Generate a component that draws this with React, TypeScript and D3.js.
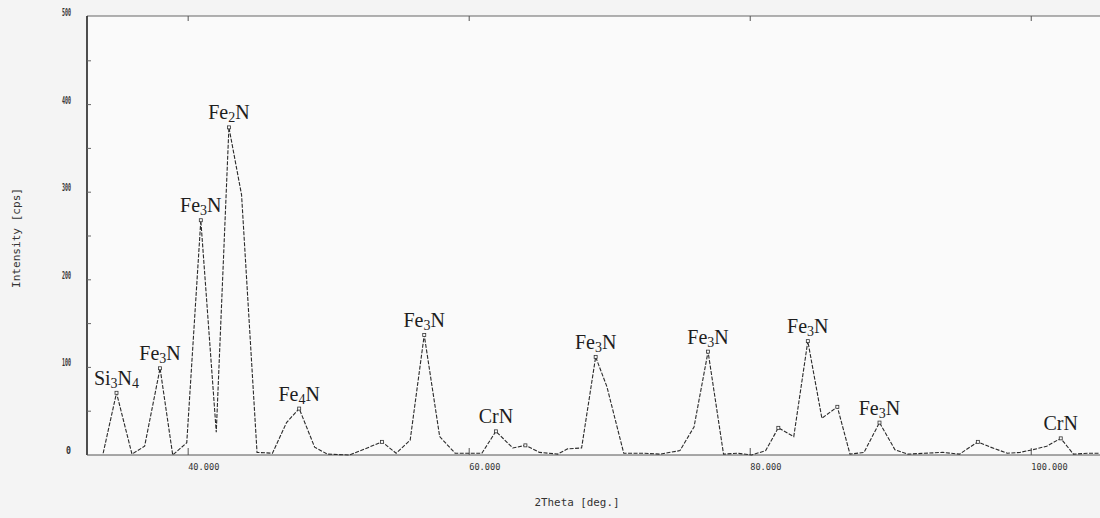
import * as d3 from 'd3';

// XRD pattern
const twoTheta = [33.95, 34.9, 36.0, 36.9, 38.0, 38.9, 39.9, 40.9, 42.0, 42.9, 43.8, 44.9, 46.0, 47.0, 47.9, 49.0, 49.9, 51.5, 53.8, 54.8, 55.8, 56.8, 57.9, 59.0, 60.9, 61.9, 63.1, 64.0, 65.0, 66.3, 67.0, 68.0, 69.0, 69.8, 71.0, 72.4, 73.6, 75.0, 76.0, 77.0, 78.1, 79.1, 80.1, 81.1, 82.0, 83.1, 84.1, 85.1, 86.2, 87.1, 88.1, 89.2, 90.3, 91.2, 93.7, 94.9, 96.2, 97.1, 98.3, 99.2, 100.1, 101.1, 102.1, 103.0, 104.0, 105.0];
const intensity = [2, 71, 1, 10, 99, 0, 14, 268, 26, 374, 297, 3, 2, 37, 53, 9, 1, 0, 15, 2, 17, 137, 21, 2, 2, 27, 8, 11, 3, 1, 7, 8, 112, 78, 2, 2, 1, 5, 32, 118, 1, 2, 0, 5, 31, 21, 130, 42, 55, 1, 3, 37, 6, 1, 3, 1, 15, 9, 2, 3, 6, 10, 19, 1, 2, 2];

// labelled peaks
const peakTheta = [34.9, 38.0, 40.9, 42.9, 47.9, 56.8, 61.9, 69.0, 77.0, 84.1, 89.2, 102.1];
const peakPhase = ['Si3N4', 'Fe3N', 'Fe3N', 'Fe2N', 'Fe4N', 'Fe3N', 'CrN', 'Fe3N', 'Fe3N', 'Fe3N', 'Fe3N', 'CrN'];
// other small markers on the trace
const markTheta = [53.8, 64.0, 82.0, 86.2, 96.2];

const xTicks = [40, 60, 80, 100];
const xTickLabels = ['40.000', '60.000', '80.000', '100.000'];
const yTicks = [0, 100, 200, 300, 400, 500];

const W = 1100;
const H = 518;
const left = 87;
const top = 16;
const bottom = 455;

function Formula({ text, x, y }: { text: string; x: number; y: number }) {
  // digits become subscripts
  const parts = text.match(/[A-Za-z]+|\d+/g) || [];
  let sub = false;
  return (
    <text x={x} y={y} textAnchor="middle" fontFamily="'Liberation Serif', 'DejaVu Serif', serif" fontSize={20} fill="#1e1e1e">
      {parts.map((p, i) => {
        const isNum = /\d/.test(p);
        const dy = isNum && !sub ? 3 : !isNum && sub ? -3 : 0;
        sub = isNum;
        return (
          <tspan key={i} dy={dy} fontSize={isNum ? 14 : 20}>{p}</tspan>
        );
      })}
    </text>
  );
}

export default function App() {
  const x = d3.scaleLinear().domain([32.8, 105]).range([left, 1101.5]);
  const y = d3.scaleLinear().domain([0, 500]).range([bottom, 17]);

  const line = d3.line<number>()
    .x((d, i) => x(twoTheta[i]))
    .y(d => y(d));

  const valueAt = (t: number) => intensity[twoTheta.indexOf(t)];

  return (
    <svg width={W} height={H} style={{ position: 'absolute', left: 0, top: 0, background: '#f4f4f4' }}>
      <rect x={left} y={top} width={W - left} height={bottom - top} fill="#fafafa" />
      <defs>
        <clipPath id="plot">
          <rect x={left} y={0} width={W - left} height={bottom + 2} />
        </clipPath>
      </defs>

      {/* frame */}
      <line x1={left} x2={W} y1={top} y2={top} stroke="#666" strokeWidth={1} />
      <line x1={left} x2={left} y1={top} y2={bottom} stroke="#222" strokeWidth={1.6} />
      <line x1={left} x2={W} y1={bottom} y2={bottom} stroke="#555" strokeWidth={1.2} />

      {/* y ticks every 50, inside */}
      {d3.range(50, 500, 50).map(v => (
        <line key={v} x1={left} x2={left + 4} y1={y(v)} y2={y(v)} stroke="#666" strokeWidth={1} />
      ))}
      {yTicks.map(v => (
        <text key={v} x={71} y={y(v) - 1} textAnchor="end" fontFamily="'DejaVu Sans Mono', monospace" fontSize={10} fontWeight="bold" fill="#333"
          textLength={v === 0 ? 5 : 9} lengthAdjust="spacingAndGlyphs">{v}</text>
      ))}

      {/* x ticks */}
      {xTicks.map((t, i) => (
        <g key={t}>
          <line x1={x(t)} x2={x(t)} y1={bottom} y2={bottom - 7} stroke="#555" strokeWidth={1} />
          <line x1={x(t)} x2={x(t)} y1={top} y2={top + 5} stroke="#555" strokeWidth={1} />
          <text x={x(t)} y={470} fontFamily="'DejaVu Sans Mono', monospace" fontSize={9} fill="#333"
            textLength={xTickLabels[i].length * 5.2} lengthAdjust="spacingAndGlyphs">{xTickLabels[i]}</text>
        </g>
      ))}

      {/* axis titles */}
      <text x={577} y={506} textAnchor="middle" fontFamily="'DejaVu Sans Mono', monospace" fontSize={10} fill="#333"
        textLength={85} lengthAdjust="spacingAndGlyphs">2Theta [deg.]</text>
      <text transform="translate(20,238) rotate(-90)" textAnchor="middle" fontFamily="'DejaVu Sans Mono', monospace" fontSize={10} fill="#333"
        textLength={100} lengthAdjust="spacingAndGlyphs">Intensity [cps]</text>

      {/* trace */}
      <g clipPath="url(#plot)">
        <path d={line(intensity) || ''} fill="none" stroke="#2a2a2a" strokeWidth={1.1} strokeDasharray="4 1.5" />
        {[...peakTheta, ...markTheta].map(t => (
          <rect key={t} x={x(t) - 1.5} y={y(valueAt(t)) - 1.5} width={3} height={3} fill="#fafafa" stroke="#333" strokeWidth={0.8} />
        ))}
      </g>

      {/* phase labels */}
      {peakTheta.map((t, i) => (
        <Formula key={t} text={peakPhase[i]} x={x(t)} y={y(valueAt(t)) - 8} />
      ))}
    </svg>
  );
}
